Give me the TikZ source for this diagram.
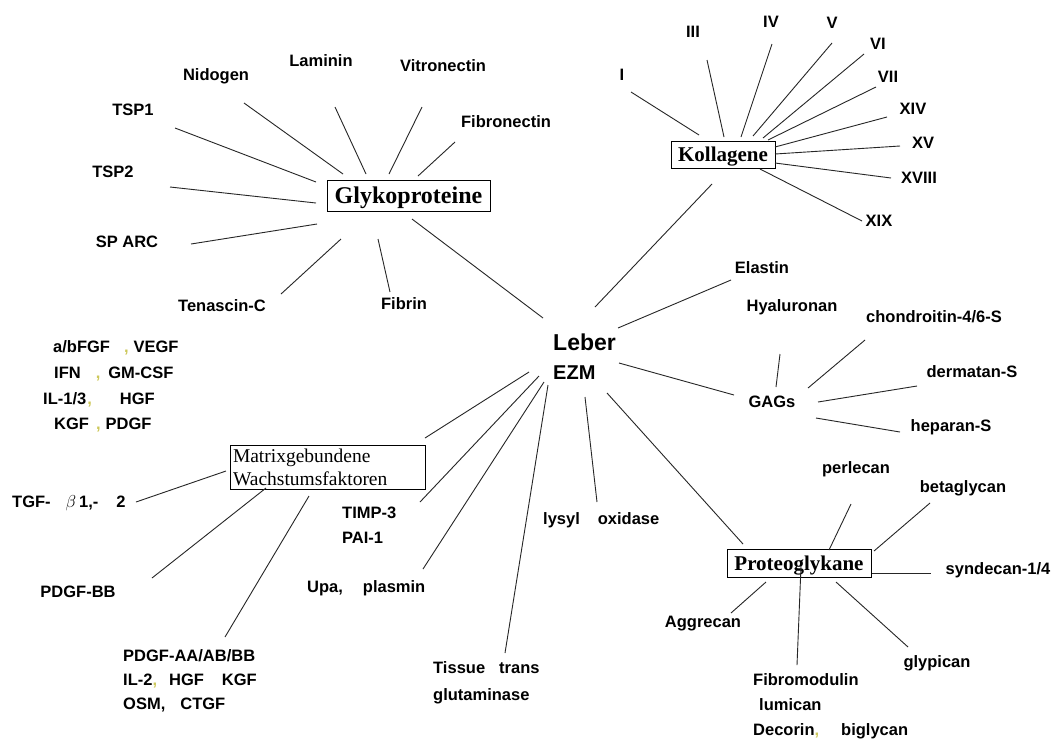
\documentclass[tikz,border=0pt]{standalone}
\usepackage{fontspec}
\setmainfont{Liberation Serif}
\setsansfont{Liberation Sans}
\definecolor{commacol}{RGB}{205,200,90}
\newcommand{\ycomma}{\textcolor{commacol}{,}}
\begin{document}
\begin{tikzpicture}[x=1pt,y=-1pt,
  lbl/.style={font=\sffamily\bfseries\fontsize{16.5}{19}\selectfont, inner sep=0pt, text height=11.8pt, text depth=0pt},
  edge/.style={line width=0.9pt, draw=black!85},
  catbox/.style={draw, line width=1pt, inner sep=0pt}]
\useasboundingbox[fill=white] (0,0) rectangle (1056,740);

% ---------- centre ----------
\node[font=\sffamily\bfseries\fontsize{23}{27}\selectfont, anchor=west, inner sep=0pt, text height=16.5pt, text depth=0pt] (leber) at (553,342) {Leber};
\node[font=\sffamily\bfseries\fontsize{20}{24}\selectfont, anchor=west, inner sep=0pt, text height=14.3pt, text depth=0pt] (ezm) at (553,372) {EZM};

% ---------- Glykoproteine ----------
\node[catbox, minimum width=163pt, minimum height=31pt, font=\bfseries\fontsize{24}{28}\selectfont, text height=16pt, text depth=0pt] (gly) at (408.5,195.5) {Glykoproteine};
\node[lbl] (nidogen) at (216,75) {Nidogen};
\node[lbl] (laminin) at (321,61) {Laminin};
\node[lbl] (vitro) at (443,66) {Vitronectin};
\node[lbl] (fibronectin) at (506,122) {Fibronectin};
\node[lbl] (tsp1) at (133,110) {TSP1};
\node[lbl] (tsp2) at (113,172) {TSP2};
\node[lbl] (sparc) at (127,242) {SP ARC};
\node[lbl] (tenascin) at (222,306) {Tenascin-C};
\node[lbl] (fibrin) at (404,304) {Fibrin};

\coordinate (nidogen-e) at (244,103); \coordinate (gly-nidogen) at (343,174);
\coordinate (laminin-e) at (335,107); \coordinate (gly-laminin) at (366,174);
\coordinate (vitro-e) at (422,107); \coordinate (gly-vitro) at (389,174);
\coordinate (fibronectin-e) at (455,142); \coordinate (gly-fibronectin) at (418,176);
\coordinate (tsp1-e) at (175,128); \coordinate (gly-tsp1) at (316,182);
\coordinate (tsp2-e) at (170,187); \coordinate (gly-tsp2) at (316,203);
\coordinate (sparc-e) at (191,244); \coordinate (gly-sparc) at (317,224);
\coordinate (tenascin-e) at (281,294); \coordinate (gly-tenascin) at (341,239);
\coordinate (fibrin-e) at (390,292); \coordinate (gly-fibrin) at (378,239);
\coordinate (gly-leber) at (412,219); \coordinate (leber-gly) at (543,318);
\foreach \a/\b in {nidogen-e/gly-nidogen, laminin-e/gly-laminin, vitro-e/gly-vitro,
  fibronectin-e/gly-fibronectin, tsp1-e/gly-tsp1, tsp2-e/gly-tsp2, sparc-e/gly-sparc,
  tenascin-e/gly-tenascin, fibrin-e/gly-fibrin, gly-leber/leber-gly}
  \draw[edge] (\a) -- (\b);

% ---------- Kollagene ----------
\node[catbox, minimum width=104pt, minimum height=27pt, font=\bfseries\fontsize{21}{25}\selectfont, text height=14.2pt, text depth=0pt] (kol) at (723,154.5) {Kollagene};
\node[lbl] (k1) at (622,75) {I};
\node[lbl] (k3) at (693,32) {III};
\node[lbl] (k4) at (771,22) {IV};
\node[lbl] (k5) at (832,23) {V};
\node[lbl] (k6) at (878,44) {VI};
\node[lbl] (k7) at (888,77) {VII};
\node[lbl] (k14) at (913,109) {XIV};
\node[lbl] (k15) at (923,143) {XV};
\node[lbl] (k18) at (919,178) {XVIII};
\node[lbl] (k19) at (879,221) {XIX};

\coordinate (k1-e) at (631,92); \coordinate (kol-k1) at (699,135);
\coordinate (k3-e) at (707,60); \coordinate (kol-k3) at (724,137);
\coordinate (k4-e) at (772,44); \coordinate (kol-k4) at (741,137);
\coordinate (k5-e) at (832,43); \coordinate (kol-k5) at (753,136);
\coordinate (k6-e) at (864,54); \coordinate (kol-k6) at (763,138);
\coordinate (k7-e) at (876,87); \coordinate (kol-k7) at (768,140);
\coordinate (k14-e) at (887,117); \coordinate (kol-k14) at (775,147);
\coordinate (k15-e) at (900,146); \coordinate (kol-k15) at (775,154);
\coordinate (k18-e) at (891,178); \coordinate (kol-k18) at (775,163);
\coordinate (k19-e) at (862,221); \coordinate (kol-k19) at (760,169);
\coordinate (kol-leber) at (712,184); \coordinate (leber-kol) at (595,307);
\foreach \a/\b in {k1-e/kol-k1, k3-e/kol-k3, k4-e/kol-k4, k5-e/kol-k5, k6-e/kol-k6,
  k7-e/kol-k7, k14-e/kol-k14, k15-e/kol-k15, k18-e/kol-k18, k19-e/kol-k19, kol-leber/leber-kol}
  \draw[edge] (\a) -- (\b);

% ---------- Elastin / GAGs ----------
\node[lbl] (elastin) at (762,268) {Elastin};
\node[lbl] (hyal) at (792,306) {Hyaluronan};
\node[lbl] (chond) at (934,317) {chondroitin-4/6-S};
\node[lbl] (gags) at (772,402) {GAGs};
\node[lbl] (dermatan) at (972,372) {dermatan-S};
\node[lbl] (heparan) at (951,426) {heparan-S};

\coordinate (elastin-e) at (731,280); \coordinate (leber-elastin) at (618,328);
\coordinate (leber-gags) at (619,363); \coordinate (gags-leber) at (734,395);
\coordinate (hyal-e) at (780,354); \coordinate (gags-hyal) at (776,387);
\coordinate (chond-e) at (865,340); \coordinate (gags-chond) at (808,388);
\coordinate (dermatan-e) at (917,386); \coordinate (gags-dermatan) at (818,402);
\coordinate (heparan-e) at (900,432); \coordinate (gags-heparan) at (816,418);
\foreach \a/\b in {elastin-e/leber-elastin, leber-gags/gags-leber, hyal-e/gags-hyal,
  chond-e/gags-chond, dermatan-e/gags-dermatan, heparan-e/gags-heparan}
  \draw[edge] (\a) -- (\b);

% ---------- Proteoglykane ----------
\node[catbox, minimum width=144pt, minimum height=28pt, font=\bfseries\fontsize{21}{25}\selectfont, text height=14.2pt, text depth=0pt] (pg) at (799,563) {Proteoglykane};
\node[lbl] (perlecan) at (856,468) {perlecan};
\node[lbl] (betaglycan) at (963,487) {betaglycan};
\node[lbl] (syndecan) at (998,569) {syndecan-1/4};
\node[lbl] (aggrecan) at (703,622) {Aggrecan};
\node[lbl, anchor=west] (fibromod) at (753,680) {Fibromodulin};
\node[lbl, anchor=west] (lumican) at (759,705) {lumican};
\node[lbl, anchor=west] (decorin) at (753,730) {Decorin\ycomma\hspace{22pt}biglycan};
\node[lbl] (glypican) at (937,662) {glypican};
\node[lbl, anchor=west] (lysyl) at (543,519) {lysyl\hspace{18pt}oxidase};

\coordinate (leber-pg) at (607,393); \coordinate (pg-leber) at (743,544);
\coordinate (leber-lysyl) at (585,397); \coordinate (lysyl-e) at (597,502);
\coordinate (perlecan-e) at (851,504); \coordinate (pg-perlecan) at (829,550);
\coordinate (betaglycan-e) at (930,503); \coordinate (pg-betaglycan) at (874,551);
\coordinate (pg-syndecan) at (872,573); \coordinate (syndecan-e) at (931,573);
\coordinate (aggrecan-e) at (731,613); \coordinate (pg-aggrecan) at (766,582);
\coordinate (pg-fibromod) at (801,566); \coordinate (fibromod-e) at (797,665);
\coordinate (pg-glypican) at (836,582); \coordinate (glypican-e) at (908,647);
\foreach \a/\b in {leber-pg/pg-leber, leber-lysyl/lysyl-e, perlecan-e/pg-perlecan,
  betaglycan-e/pg-betaglycan, pg-syndecan/syndecan-e, aggrecan-e/pg-aggrecan,
  pg-fibromod/fibromod-e, pg-glypican/glypican-e}
  \draw[edge] (\a) -- (\b);

% ---------- Matrixgebundene Wachstumsfaktoren ----------
\node[catbox, minimum width=195pt, minimum height=44pt, inner xsep=3pt, text width=189pt, align=left, font=\fontsize{19.5}{23}\selectfont] (mw) at (327.5,467.5) {Matrixgebundene\\Wachstumsfaktoren};
\node[lbl, anchor=west] (row1) at (53,347) {a/bFGF\hspace{14pt}\ycomma\hspace{5pt}VEGF};
\node[lbl, anchor=west] (row2) at (54,373) {IFN\hspace{15pt}\ycomma\hspace{8pt}GM-CSF};
\node[lbl, anchor=west] (row3) at (43,399) {IL-1/3\hspace{1pt}\ycomma\hspace{28pt}HGF};
\node[lbl, anchor=west] (row4) at (54,424) {KGF\hspace{7pt}\ycomma\hspace{5pt}PDGF};
\node[lbl, anchor=west] (tgf) at (12,502) {TGF-\hspace{15pt}{\normalfont\fontsize{17}{17}\selectfont$\beta$}\hspace{3pt}1,-\hspace{18pt}2};
\node[lbl] (pdgfbb) at (78,592) {PDGF-BB};
\node[lbl, anchor=west] (pdgfaa) at (123,656) {PDGF-AA/AB/BB};
\node[lbl, anchor=west] (il2) at (123,680) {IL-2\ycomma\hspace{12pt}HGF\hspace{18pt}KGF};
\node[lbl, anchor=west] (osm) at (123,704) {OSM,\hspace{15pt}CTGF};
\node[lbl, anchor=west] (timp) at (342,513) {TIMP-3};
\node[lbl, anchor=west] (pai) at (342,538) {PAI-1};
\node[lbl, anchor=west] (upa) at (307,587) {Upa,\hspace{20pt}plasmin};
\node[lbl, anchor=west] (tissue) at (433,668) {Tissue\hspace{14pt}trans};
\node[lbl, anchor=west] (glut) at (433,695) {glutaminase};

\coordinate (tgf-e) at (136,502); \coordinate (mw-tgf) at (226,471);
\coordinate (pdgfbb-e) at (152,578); \coordinate (mw-pdgfbb) at (266,488);
\coordinate (mw-pdgfaa) at (309,496); \coordinate (pdgfaa-e) at (225,637);
\coordinate (leber-mw) at (529,372); \coordinate (mw-leber) at (425,438);
\coordinate (leber-timp) at (539,376); \coordinate (timp-e) at (420,502);
\coordinate (leber-upa) at (544,382); \coordinate (upa-e) at (423,569);
\coordinate (leber-tissue) at (548,385); \coordinate (tissue-e) at (505,653);
\foreach \a/\b in {tgf-e/mw-tgf, pdgfbb-e/mw-pdgfbb, mw-pdgfaa/pdgfaa-e, leber-mw/mw-leber,
  leber-timp/timp-e, leber-upa/upa-e, leber-tissue/tissue-e}
  \draw[edge] (\a) -- (\b);
\end{tikzpicture}
\end{document}
